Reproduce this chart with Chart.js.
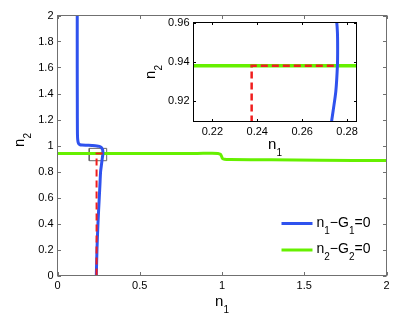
<!DOCTYPE html>
<html><head><meta charset="utf-8">
<script src="https://cdn.jsdelivr.net/npm/chart.js@4"></script>
<style>
html,body{margin:0;padding:0;background:#fff;}
#wrap{position:relative;width:415px;height:314px;overflow:hidden;}
#main{position:absolute;left:0;top:0;}
#inset{position:absolute;left:130px;top:5px;}
</style></head><body>
<div id="wrap"><canvas id="main" width="415" height="314"></canvas><canvas id="inset" width="240" height="155"></canvas></div>
<script>
// ---- data ----
const blueN1 = [0.120,0.120,0.1205,0.121,0.122,0.124,0.127,0.131,0.137,0.150,0.180,0.210,0.240,0.255,0.264,0.270,0.2737,0.2752,0.2757,0.2758,0.2757,0.2750,0.2738,0.2731,0.2715,0.2695,0.266,0.262,0.258,0.254,0.246,0.240,0.236];
const blueN2 = [2.00,1.60,1.30,1.12,1.06,1.035,1.020,1.011,1.006,1.004,1.002,1.000,0.997,0.993,0.987,0.978,0.969,0.962,0.955,0.947,0.938,0.925,0.915,0.9095,0.895,0.875,0.84,0.80,0.70,0.60,0.40,0.20,0.00];
const greenN1 = [0,0.3,0.6,0.85,0.94,0.975,0.99,0.997,1.003,1.015,1.05,1.3,1.6,2.0];
const greenN2 = [0.938,0.938,0.938,0.939,0.940,0.938,0.932,0.918,0.900,0.894,0.892,0.890,0.887,0.884];
const redN1 = [0.2375,0.2375,0.2757];
const redN2 = [0,0.938,0.938];
const boxN1 = [0.193,0.299,0.299,0.193,0.193];
const boxN2 = [0.883,0.883,0.978,0.978,0.883];
const seriesLabels = ["n_1−G_1=0","n_2−G_2=0"];
const xTitle = "n_1", yTitle = "n_2";
const mainXTicks = [0,0.5,1,1.5,2];
const mainYTicks = [0,0.2,0.4,0.6,0.8,1,1.2,1.4,1.6,1.8,2];
const insetXTicks = [0.22,0.24,0.26,0.28];
const insetYTicks = [0.92,0.94,0.96];
const mainRange = {x:[0,2], y:[0,2]};
const insetRange = {x:[0.2116,0.2842], y:[0.9095,0.96]};

const BLUE='#2f52ee', GREEN='#66f000', RED='#f01e1e';
const FONT='"Liberation Sans", Arial, Helvetica, sans-serif';
const zip=(a,b)=>a.map((v,i)=>({x:v,y:b[i]}));

function richParts(str){
  const parts=[]; let buf='';
  for(let i=0;i<str.length;i++){
    if(str[i]==='_'){ if(buf){parts.push({t:buf,sub:false});buf='';} parts.push({t:str[i+1],sub:true}); i++; }
    else buf+=str[i];
  }
  if(buf) parts.push({t:buf,sub:false});
  return parts;
}
function drawRich(ctx,str,x,y,size,subSize,subDy,align){
  const parts=richParts(str);
  let w=0;
  parts.forEach(p=>{ctx.font=(p.sub?subSize:size)+'px '+FONT; p.w=ctx.measureText(p.t).width; w+=p.w;});
  let cx = align==='center'? x-w/2 : x;
  ctx.textBaseline='alphabetic'; ctx.textAlign='left';
  parts.forEach(p=>{ctx.font=(p.sub?subSize:size)+'px '+FONT; ctx.fillText(p.t,cx,y+(p.sub?subDy:0)); cx+=p.w;});
}

const deco = {
  id:'deco',
  beforeDraw(chart,args,o){
    const ctx=chart.ctx,a=chart.chartArea;
    ctx.save(); ctx.fillStyle='#fff';
    if(o.fillAll) ctx.fillRect(0,0,chart.width,chart.height);
    else ctx.fillRect(a.left,a.top,a.right-a.left,a.bottom-a.top);
    ctx.restore();
  },
  afterDatasetsDraw(chart,args,o){
    const ctx=chart.ctx,a=chart.chartArea,xs=chart.scales.x,ys=chart.scales.y;
    ctx.save();
    ctx.strokeStyle=o.frameColor; ctx.lineWidth=1;
    ctx.strokeRect(a.left,a.top,a.right-a.left,a.bottom-a.top);
    ctx.beginPath();
    xs.ticks.forEach(t=>{const p=Math.round(xs.getPixelForValue(t.value))+0.5;
      ctx.moveTo(p,a.bottom);ctx.lineTo(p,a.bottom-o.tickLen);ctx.moveTo(p,a.top);ctx.lineTo(p,a.top+o.tickLen);});
    ys.ticks.forEach(t=>{const p=Math.round(ys.getPixelForValue(t.value))+0.5;
      ctx.moveTo(a.left,p);ctx.lineTo(a.left+o.tickLen,p);ctx.moveTo(a.right,p);ctx.lineTo(a.right-o.tickLen,p);});
    ctx.stroke();
    ctx.fillStyle='#000';
    drawRich(ctx,xTitle,(a.left+a.right)/2,o.xTitleY,15,10,7,'center');
    ctx.save(); ctx.translate(o.yTitleX,o.yTitleCY); ctx.rotate(-Math.PI/2);
    drawRich(ctx,yTitle,0,0,15,10,7,'center'); ctx.restore();
    if(o.legend){
      const L=o.legend;
      L.items.forEach((it,i)=>{
        const ds=chart.data.datasets[it];
        const y=L.y0+i*L.dy;
        ctx.strokeStyle=ds.borderColor; ctx.lineWidth=3; ctx.setLineDash([]);
        ctx.beginPath(); ctx.moveTo(L.x0,y); ctx.lineTo(L.x1,y); ctx.stroke();
        ctx.fillStyle='#000';
        drawRich(ctx,ds.label,L.tx,y+L.tdy,14,10,7,'left');
      });
    }
    ctx.restore();
  }
};

function scaleOpts(min,max,ticks,size,pad,fit,isX){
  return {
    type:'linear', min:min, max:max,
    grid:{display:false,drawTicks:false}, border:{display:false},
    afterBuildTicks:s=>{s.ticks=ticks.map(v=>({value:v}));},
    afterFit:s=>{ if(isX) s.height=fit; else s.width=fit; },
    ticks:{padding:pad,color:'#000',font:{family:FONT,size:size},maxRotation:0,autoSkip:false,
      callback:v=>String(Number(v.toFixed(3)))}
  };
}
function line(data,color,w,dash,order,label,tension){
  return {label:label||'',data:data,showLine:true,borderColor:color,backgroundColor:color,borderWidth:w,
    borderDash:dash||[],pointRadius:0,pointHoverRadius:0,fill:false,tension:tension||0,clip:0,order:order};
}

new Chart(document.getElementById('main'),{
  type:'scatter',
  data:{datasets:[
    line(zip(blueN1,blueN2),BLUE,3,null,1,seriesLabels[0],0.3),
    line(zip(greenN1,greenN2),GREEN,3,null,2,seriesLabels[1],0.3),
    line(zip(redN1,redN2),RED,2,[7,4],0),
    line(zip(boxN1,boxN2),'#666',1,null,3)
  ]},
  options:{
    responsive:false,animation:false,events:[],
    layout:{padding:{left:0,top:15.5,right:28.5,bottom:0}},
    scales:{
      x:scaleOpts(mainRange.x[0],mainRange.x[1],mainXTicks,11,4,38.5,true),
      y:scaleOpts(mainRange.y[0],mainRange.y[1],mainYTicks,11,4,57.5,false)
    },
    plugins:{legend:{display:false},tooltip:{enabled:false},
      deco:{fillAll:true,frameColor:'#707070',tickLen:3.5,xTitleY:306,yTitleX:23.5,yTitleCY:140,
        legend:{items:[0,1],x0:281.5,x1:312.5,y0:223.5,dy:26.5,tx:316.5,tdy:3}}}
  },
  plugins:[deco]
});

new Chart(document.getElementById('inset'),{
  type:'scatter',
  data:{datasets:[
    line(zip(blueN1,blueN2),BLUE,3,null,1,seriesLabels[0],0.3),
    line(zip(greenN1,greenN2),GREEN,3.5,null,2,seriesLabels[1]),
    line(zip(redN1,redN2),RED,2.5,[7,4],0)
  ]},
  options:{
    responsive:false,animation:false,events:[],
    layout:{padding:{left:0,top:17.5,right:13.5,bottom:0}},
    scales:{
      x:scaleOpts(insetRange.x[0],insetRange.x[1],insetXTicks,11,4,38.5,true),
      y:scaleOpts(insetRange.y[0],insetRange.y[1],insetYTicks,11,4,63.5,false)
    },
    plugins:{legend:{display:false},tooltip:{enabled:false},
      deco:{fillAll:false,frameColor:'#000',tickLen:2.5,xTitleY:144,yTitleX:25,yTitleCY:67}}
  },
  plugins:[deco]
});
</script>
</body></html>
